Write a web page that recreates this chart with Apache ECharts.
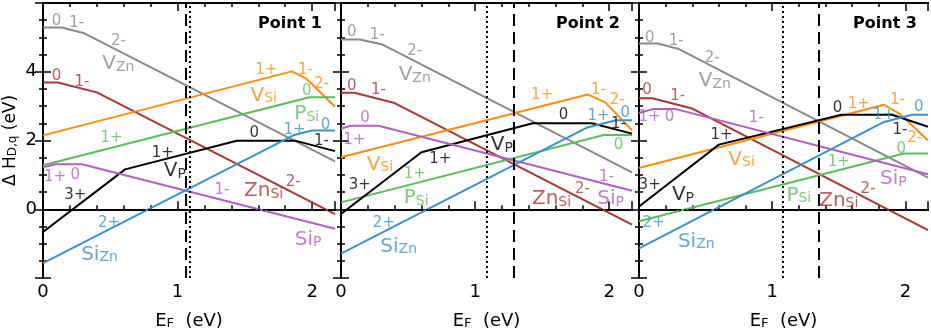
<!DOCTYPE html>
<html>
<head>
<meta charset="utf-8">
<script src="https://cdn.jsdelivr.net/npm/echarts@6/dist/echarts.min.js"></script>
<style>
  html, body { margin: 0; background: #fff; }
  #chart { width: 931px; height: 335px; }
</style>
</head>
<body>
<div id="chart"></div>
<script>
// E_F range and energy range (eV)
const xMax = 2.17;
const yMin = -2;
const yMax = 6;
const panelNames = ['Point 1', 'Point 2', 'Point 3'];

// breakpoints [E_F, dH] of each defect, one list per point
const vZn = [
  [[0, 5.29], [0.14, 5.29], [0.30, 5.13], [2.17, 1.39]],
  [[0, 4.94], [0.14, 4.94], [0.31, 4.79], [2.17, 1.07]],
  [[0, 4.82], [0.14, 4.82], [0.30, 4.66], [2.17, 0.92]]
];
const znSi = [
  [[0, 3.69], [0.11, 3.69], [0.40, 3.40], [2.17, -0.14]],
  [[0, 3.39], [0.10, 3.39], [0.40, 3.09], [2.17, -0.45]],
  [[0, 3.23], [0.10, 3.23], [0.40, 2.93], [2.17, -0.61]]
];
const vSi = [
  [[0, 2.15], [1.85, 4.01], [1.96, 3.79], [2.17, 2.98]],
  [[0, 1.51], [1.84, 3.34], [1.97, 3.11], [2.17, 2.30]],
  [[0, 1.20], [1.84, 3.04], [1.96, 2.77], [2.17, 2.00]]
];
const pSi = [
  [[0, 1.28], [1.98, 3.26], [2.17, 3.26]],
  [[0, 0.20], [1.96, 2.16], [2.17, 2.16]],
  [[0, -0.35], [1.99, 1.62], [2.17, 1.62]]
];
const vP = [
  [[0, -0.66], [0.61, 1.16], [1.44, 1.99], [1.88, 1.99], [2.17, 1.69]],
  [[0, -0.14], [0.60, 1.66], [1.43, 2.50], [1.87, 2.50], [2.17, 2.20]],
  [[0, 0.08], [0.60, 1.88], [1.52, 2.75], [1.90, 2.75], [2.17, 2.40]]
];
const siP = [
  [[0, 1.22], [0.09, 1.31], [0.29, 1.31], [2.17, -0.57]],
  [[0, 2.34], [0.07, 2.43], [0.28, 2.43], [2.17, 0.54]],
  [[0, 2.80], [0.11, 2.92], [0.27, 2.92], [2.17, 1.02]]
];
const siZn = [
  [[0, -1.57], [1.86, 2.15], [2.00, 2.29], [2.17, 2.29]],
  [[0, -1.29], [1.83, 2.37], [2.05, 2.59], [2.17, 2.59]],
  [[0, -1.14], [1.84, 2.54], [2.05, 2.75], [2.17, 2.75]]
];

// vertical reference levels of E_F
const dottedEF = [1.088, 1.087, 1.082];
const dashedEF = [1.063, 1.293, 1.351];

// charge state and defect labels [E_F, dH, text, defect]
const labels1 = [
  [0.10, 5.48, '0', 'vZn'], [0.25, 5.42, '1-', 'vZn'], [0.56, 4.88, '2-', 'vZn'], [0.56, 4.28, 'V_Zn', 'vZn'],
  [0.10, 3.86, '0', 'znSi'], [0.29, 3.71, '1-', 'znSi'], [1.64, 0.59, 'Zn_Si', 'znSi'], [1.86, 0.79, '2-', 'znSi'],
  [1.66, 4.04, '1+', 'vSi'], [1.95, 4.05, '1-', 'vSi'], [2.07, 3.64, '2-', 'vSi'], [1.64, 3.36, 'V_Si', 'vSi'],
  [1.96, 3.45, '0', 'pSi'], [1.96, 2.83, 'P_Si', 'pSi'], [0.51, 2.07, '1+', 'pSi'],
  [1.57, 2.21, '0', 'vP'], [2.07, 1.97, '1-', 'vP'], [0.89, 1.64, '1+', 'vP'], [0.98, 1.17, 'V_P', 'vP'], [0.24, 0.41, '3+', 'vP'],
  [1.87, 2.31, '1+', 'siZn'], [2.10, 2.45, '0', 'siZn'], [0.49, -0.41, '2+', 'siZn'], [0.42, -1.26, 'Si_Zn', 'siZn'],
  [0.09, 0.93, '1+', 'siP'], [0.24, 0.98, '0', 'siP'], [1.33, 0.55, '1-', 'siP'], [1.97, -0.83, 'Si_P', 'siP']
];
const labels2 = [
  [0.08, 5.15, '0', 'vZn'], [0.27, 5.07, '1-', 'vZn'], [0.55, 4.61, '2-', 'vZn'], [0.55, 3.96, 'V_Zn', 'vZn'],
  [0.08, 3.59, '0', 'znSi'], [0.28, 3.48, '1-', 'znSi'], [1.57, 0.36, 'Zn_Si', 'znSi'], [1.80, 0.59, '2-', 'znSi'],
  [0.18, 2.64, '0', 'siP'], [0.10, 2.02, '1+', 'siP'], [1.98, 0.93, '1-', 'siP'], [2.01, 0.36, 'Si_P', 'siP'],
  [1.50, 3.31, '1+', 'vSi'], [1.92, 3.48, '1-', 'vSi'], [2.06, 3.17, '2-', 'vSi'], [0.29, 1.36, 'V_Si', 'vSi'],
  [1.66, 2.74, '0', 'vP'], [2.07, 2.47, '1-', 'vP'], [1.20, 1.93, 'V_P', 'vP'], [0.74, 1.45, '1+', 'vP'], [0.14, 0.69, '3+', 'vP'],
  [1.92, 2.72, '1+', 'siZn'], [2.12, 2.79, '0', 'siZn'], [0.32, -0.40, '2+', 'siZn'], [0.43, -1.02, 'Si_Zn', 'siZn'],
  [2.07, 1.88, '0', 'pSi'], [0.55, 1.02, '1+', 'pSi'], [0.56, 0.38, 'P_Si', 'pSi']
];
const labels3 = [
  [0.08, 4.98, '0', 'vZn'], [0.28, 4.88, '1-', 'vZn'], [0.55, 4.41, '2-', 'vZn'], [0.57, 3.79, 'V_Zn', 'vZn'],
  [0.06, 3.48, '0', 'znSi'], [0.29, 3.28, '1-', 'znSi'], [1.50, 0.31, 'Zn_Si', 'znSi'], [1.72, 0.59, '2-', 'znSi'],
  [0.08, 2.69, '1+', 'siP'], [0.23, 2.69, '0', 'siP'], [0.88, 2.64, '1-', 'siP'], [1.91, 0.93, 'Si_P', 'siP'],
  [1.65, 3.07, '1+', 'vSi'], [1.94, 3.17, '1-', 'vSi'], [2.07, 2.07, '2-', 'vSi'], [0.77, 1.50, 'V_Si', 'vSi'],
  [1.49, 2.93, '0', 'vP'], [1.96, 2.31, '1-', 'vP'], [0.62, 2.17, '1+', 'vP'], [0.08, 0.69, '3+', 'vP'], [0.33, 0.47, 'V_P', 'vP'],
  [1.84, 2.74, '1+', 'siZn'], [2.10, 2.98, '0', 'siZn'], [0.11, -0.40, '2+', 'siZn'], [0.43, -0.88, 'Si_Zn', 'siZn'],
  [1.97, 1.74, '0', 'pSi'], [1.50, 1.36, '1+', 'pSi'], [1.20, 0.45, 'P_Si', 'pSi']
];

const defects = { vZn, znSi, vSi, pSi, vP, siP, siZn };
const allLabels = [labels1, labels2, labels3];
const colors = {
  vZn: '#8a8a8a', znSi: '#a63838', vSi: '#ff8c0f', pSi: '#5cbd5c',
  vP: '#000000', siP: '#b060c0', siZn: '#3b92cb'
};

const font = 'DejaVu Sans';
const grids = [
  { left: 43, top: 3, width: 292, height: 280 },
  { left: 341, top: 3, width: 291, height: 280 },
  { left: 639, top: 3, width: 290, height: 280 }
];
const titleX = [322, 620, 917];

function richText(t) {
  const i = t.indexOf('_');
  if (i < 0) return '{c|' + t + '}';
  return '{b|' + t.slice(0, i) + '}{s|' + t.slice(i + 1) + '}';
}

const lineStyleAxis = { color: '#000', width: 2 };
const tickStyle = { width: 1.5, color: '#000' };
const xAxes = [];
const yAxes = [];
grids.forEach((g, p) => {
  const intLabel = v => (Math.abs(v - Math.round(v)) < 1e-6 ? String(Math.round(v)) : '');
  const base = { type: 'value', gridIndex: p, min: 0, max: xMax, splitLine: { show: false }, axisLine: { lineStyle: lineStyleAxis } };
  // bottom: minor ticks + labels
  xAxes.push(Object.assign({}, base, {
    position: 'bottom', interval: 0.2,
    axisTick: { inside: true, length: 4, lineStyle: tickStyle },
    axisLabel: { formatter: intLabel, fontSize: 18, color: '#000', fontFamily: font, margin: 5 },
    name: '{a|E}{s|F}{a|  (eV)}', nameLocation: 'middle', nameGap: 28,
    nameTextStyle: { color: '#000', fontFamily: font, rich: {
      a: { fontSize: 18, fontFamily: font, color: '#000', lineHeight: 24, verticalAlign: 'bottom' },
      s: { fontSize: 13, fontFamily: font, color: '#000', lineHeight: 12, verticalAlign: 'bottom' }
    } }
  }));
  // bottom: major ticks
  xAxes.push(Object.assign({}, base, {
    position: 'bottom', interval: 1,
    axisTick: { inside: true, length: 8, lineStyle: tickStyle },
    axisLabel: { show: false }
  }));
  // top
  xAxes.push(Object.assign({}, base, {
    position: 'top', interval: 0.2,
    axisTick: { inside: true, length: 4, lineStyle: tickStyle },
    axisLabel: { show: false }
  }));
  xAxes.push(Object.assign({}, base, {
    position: 'top', interval: 1,
    axisTick: { inside: true, length: 8, lineStyle: tickStyle },
    axisLabel: { show: false }
  }));
  const yBase = {
    type: 'value', gridIndex: p, min: yMin, max: yMax, interval: 2,
    splitLine: { show: false }, axisLine: { show: true, lineStyle: lineStyleAxis },
    axisTick: { inside: true, length: 8, lineStyle: tickStyle },
    minorTick: { show: true, splitNumber: 4, length: 4, lineStyle: tickStyle }
  };
  yAxes.push(Object.assign({}, yBase, {
    position: 'left',
    axisLabel: {
      show: p === 0, fontSize: 18, color: '#000', fontFamily: font, margin: 6,
      formatter: v => (v >= 0 && v <= 4 ? String(v) : '')
    },
    name: p === 0 ? '{a|Δ H}{s|D,q}{a| (eV)}' : '',
    nameLocation: 'middle', nameRotate: 90, nameGap: 24,
    nameTextStyle: { color: '#000', fontFamily: font, rich: {
      a: { fontSize: 17, fontFamily: font, color: '#000', lineHeight: 22, verticalAlign: 'bottom' },
      s: { fontSize: 12, fontFamily: font, color: '#000', lineHeight: 10, verticalAlign: 'bottom' }
    } }
  }));
  yAxes.push(Object.assign({}, yBase, { position: 'right', axisLabel: { show: false } }));
});

const series = [];
grids.forEach((g, p) => {
  Object.keys(defects).forEach((key, k) => {
    const s = {
      type: 'line', xAxisIndex: 4 * p, yAxisIndex: 2 * p,
      data: defects[key][p], showSymbol: false, symbol: 'none',
      lineStyle: { color: colors[key], width: 2 }, z: 2
    };
    if (k === 0) {
      s.markLine = {
        silent: true, symbol: ['none', 'none'], label: { show: false },
        lineStyle: { color: '#000', width: 2 },
        data: [
          { xAxis: dottedEF[p], lineStyle: { type: [2, 3], color: '#000', width: 2 } },
          { xAxis: dashedEF[p], lineStyle: { type: [12, 6], color: '#000', width: 2 } },
          { yAxis: 0, lineStyle: { type: [2, 3], color: '#000', width: 2 } }
        ]
      };
    }
    series.push(s);
  });
  series.push({
    type: 'scatter', xAxisIndex: 4 * p, yAxisIndex: 2 * p, symbolSize: 0, z: 5, silent: true,
    data: allLabels[p].map(d => ({
      value: [d[0], d[1]],
      label: { show: true, position: 'inside', formatter: richText(d[2]), color: colors[d[3]] }
    })),
    label: {
      fontFamily: font,
      rich: {
        c: { fontSize: 15, fontFamily: font },
        b: { fontSize: 20, fontFamily: font, lineHeight: 24, verticalAlign: 'bottom' },
        s: { fontSize: 14, fontFamily: font, lineHeight: 12, verticalAlign: 'bottom' }
      }
    }
  });
});

const chart = echarts.init(document.getElementById('chart'), null, { renderer: 'canvas' });
chart.setOption({
  animation: false,
  backgroundColor: '#fff',
  grid: grids,
  xAxis: xAxes,
  yAxis: yAxes,
  series: series,
  graphic: panelNames.map((t, p) => ({
    type: 'text', x: titleX[p], y: 24, z: 10,
    style: { text: t, fill: '#000', font: 'bold 16px "DejaVu Sans"', align: 'right', verticalAlign: 'middle' }
  }))
});
</script>
</body>
</html>
